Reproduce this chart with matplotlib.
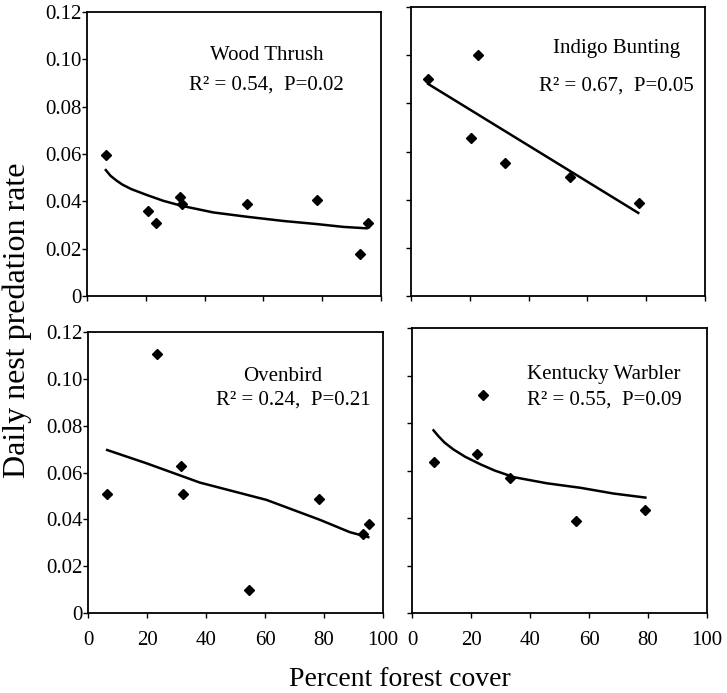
import matplotlib
matplotlib.use('Agg')
import matplotlib.pyplot as plt

plt.rcParams['font.family'] = ['Liberation Serif', 'DejaVu Serif']

# Wood Thrush
wt_x = [6.4, 20.9, 23.4, 31.7, 32.2, 54.5, 78.2, 92.9, 95.5]
wt_y = [0.0594, 0.036, 0.0307, 0.0417, 0.0389, 0.0389, 0.0406, 0.0177, 0.031]
wt_fit_x = [6.4, 8, 10, 12, 15, 20.3, 26, 32.2, 43, 54.3, 66.8, 78.1, 87.2, 95.1]
wt_fit_y = [0.0532, 0.0508, 0.0488, 0.0471, 0.0452, 0.0427, 0.0402, 0.0381, 0.0353,
            0.0335, 0.0317, 0.0304, 0.0292, 0.0286]

# Indigo Bunting
ib_x = [5.9, 22.9, 20.4, 31.9, 54.2, 77.7]
ib_y = [0.090, 0.100, 0.0655, 0.0553, 0.0495, 0.0385]
ib_fit_x = [5.9, 77.3]
ib_fit_y = [0.088, 0.0345]

# Ovenbird
ov_x = [6.5, 23.5, 31.6, 32.1, 54.6, 78.3, 93.1, 95.1]
ov_y = [0.0507, 0.1104, 0.0629, 0.051, 0.0098, 0.0486, 0.0338, 0.0382]
ov_fit_x = [6.5, 19.9, 37.9, 60.5, 78.6, 88.8, 95]
ov_fit_y = [0.0696, 0.0639, 0.0557, 0.0483, 0.0398, 0.0345, 0.0324]

# Kentucky Warbler
kw_x = [7.3, 22.1, 24.2, 33.3, 55.5, 79.1]
kw_y = [0.0634, 0.0671, 0.092, 0.0567, 0.0386, 0.0435]
kw_fit_x = [7.3, 9, 11, 14, 18, 23.2, 28, 34.5, 45.8, 57.2, 68.3, 79.1]
kw_fit_y = [0.0769, 0.0744, 0.0718, 0.0689, 0.0658, 0.0626, 0.0600, 0.0572,
            0.0546, 0.0527, 0.0503, 0.0486]

x_ticks = [0, 20, 40, 60, 80, 100]
y_ticks = [0, 0.02, 0.04, 0.06, 0.08, 0.10, 0.12]
y_labels = ['0', '0.02', '0.04', '0.06', '0.08', '0.10', '0.12']

W, H = 727, 693
fig = plt.figure(figsize=(W / 100, H / 100), dpi=100)


def box(l, r, t, b):
    return [l / W, (H - b) / H, (r - l) / W, (b - t) / H]


panels = [
    (box(87, 381, 12, 296), wt_x, wt_y, wt_fit_x, wt_fit_y,
     'Wood Thrush', (61, 0.1015, 'center'), 'R² = 0.54,  P=0.02', (61, 0.089, 'center'), True, False),
    (box(411, 705, 7, 296), ib_x, ib_y, ib_fit_x, ib_fit_y,
     'Indigo Bunting', (70, 0.1026, 'center'), 'R² = 0.67,  P=0.05', (70, 0.0873, 'center'), False, False),
    (box(88, 383, 332, 613), ov_x, ov_y, ov_fit_x, ov_fit_y,
     'Ovenbird', (66, 0.101, 'center'), 'R² = 0.24,  P=0.21', (69.5, 0.0909, 'center'), True, True),
    (box(412, 707, 328, 613), kw_x, kw_y, kw_fit_x, kw_fit_y,
     'Kentucky Warbler', (39, 0.1003, 'left'), 'R² = 0.55,  P=0.09', (39, 0.0898, 'left'), False, True),
]

for rect, px, py, fx, fy, name, npos, stat, spos, ylab, xlab in panels:
    ax = fig.add_axes(rect)
    ax.plot(fx, fy, color='black', lw=1.8)
    ax.plot(px, py, 'D', color='black', ms=5.5)
    ax.set_xlim(0, 100)
    ax.set_ylim(0, 0.12)
    ax.set_xticks(x_ticks)
    ax.set_yticks(y_ticks)
    if xlab:
        ax.set_xticklabels([str(t) for t in x_ticks])
    else:
        ax.set_xticklabels([])
    if ylab:
        ax.set_yticklabels(y_labels)
    else:
        ax.set_yticklabels([])
    ax.tick_params(direction='out', length=3.3, width=1, labelsize=15)
    ax.tick_params(axis='y', pad=0.5)
    ax.tick_params(axis='x', pad=10)
    for s in ax.spines.values():
        s.set_linewidth(1.3)
    ax.text(npos[0], npos[1], name, ha=npos[2], va='center', fontsize=15)
    ax.text(spos[0], spos[1], stat, ha=spos[2], va='center', fontsize=15)

fig.text(17 / W, 1 - 320 / H, 'Daily nest predation rate', rotation=90,
         ha='center', va='center', fontsize=23)
fig.text(400 / W, 1 - 679 / H, 'Percent forest cover', ha='center', va='center', fontsize=20)

fig.savefig('out.png', dpi=100)
